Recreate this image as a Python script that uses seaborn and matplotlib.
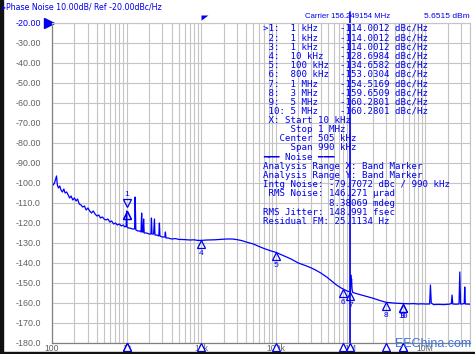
import matplotlib
matplotlib.use('Agg')
import matplotlib.pyplot as plt
import matplotlib.transforms as mtransforms
from matplotlib.patches import Rectangle
from matplotlib.ticker import FixedLocator, FixedFormatter, LogLocator, NullFormatter
import seaborn as sns

W, H, DPI = 475, 354, 100
BLUE = '#0000ee'
GRAY = '#606060'

# measured trace (Hz, dBc/Hz)
freq_hz = [100, 104, 108, 112, 115, 118, 122, 127, 132, 138, 144, 150, 157, 165, 172, 180, 190,
           200, 210, 220, 232, 245, 258, 272, 287, 303, 320, 338, 357, 378, 400, 423, 447, 473,
           500, 530, 560, 595, 630, 670, 710, 750, 800, 850, 900, 950, 985, 1000, 1015, 1050,
           1100, 1200, 1280, 1300, 1330, 1420, 1500, 1560, 1590, 1620, 1660, 1690, 1720, 1850,
           2000, 2120, 2150, 2190, 2300, 2360, 2400, 2550, 2700, 2750, 2800, 3000, 3250, 3310,
           3370, 3600, 4000, 4500, 5000, 6000, 7000, 8000, 9000, 10000, 12000, 15000, 18000,
           22000, 26000, 30000, 35000, 40000, 50000, 60000, 70000, 85000, 100000, 130000, 160000,
           200000, 250000, 300000, 340000, 400000, 480000, 560000, 650000, 750000, 800000,
           900000, 960000, 990000, 1000000, 1010000, 1020000, 1035000, 1050000, 1070000,
           1200000, 1500000, 2000000, 2500000, 3000000, 3500000, 4000000, 5000000, 6000000,
           7000000, 8000000, 9000000, 10000000, 11500000, 11800000, 12100000, 13000000,
           15000000, 18000000, 21000000, 22500000, 23000000, 23500000, 26000000, 28500000,
           29200000, 29900000, 31000000, 33500000, 34000000, 34600000, 40000000]
level_dbc = [-99.5, -101, -100, -98, -96.5, -101, -102.5, -101.5, -103.5, -104.5, -103, -105,
             -104.5, -106, -107.5, -106.5, -108.5, -107.5, -109, -108, -110.5, -111, -112,
             -111.5, -113.5, -112.5, -114, -115, -114, -115.5, -116.5, -116, -117.5, -117,
             -118, -118.5, -118, -119.5, -119, -120.5, -120, -121, -120.5, -121.5, -121, -122,
             -121.5, -114, -122, -122.5,
             -122.5, -123, -123, -107, -123.5, -124, -124, -124.5, -115, -124.5, -124.5, -118,
             -125, -125, -125.5, -125.5, -117.5, -125.5, -125.5, -118, -126, -126, -126.5,
             -120, -126.5, -127, -127, -124.5, -127.5, -127.5, -128, -127.8, -128.2, -128.3,
             -128.5, -128.4, -128.7, -128.7, -128.5, -128.4, -128.2, -128, -128, -128.3,
             -128.8, -129.5, -130.5, -131.8, -132.8, -133.9, -134.66, -136.5, -138,
             -140, -141.3, -142.5, -143.5, -145, -147, -149, -151, -152.5, -153.03,
             -154, -154.3, -154.4, -154.52, -146, -150, -148, -153, -154.7,
             -155.3, -156.3, -157.6, -158.8, -159.65, -159.9, -160.1, -160.28, -160.4,
             -160.3, -160.5, -160.4, -160.5, -160.5, -151, -160, -160.8,
             -160.7, -160.8, -160.6, -160.3, -156, -160.5, -160.6, -160.5,
             -144.5, -160.5, -160.5, -160.3, -152, -160.5, -160.6]

# markers
mk_num = [1, 2, 3, 4, 5, 6, 7, 8, 9, 10]
mk_freq = [1e3, 1e3, 1e3, 1e4, 1e5, 8e5, 1e6, 3e6, 5e6, 5e6]
mk_freq_txt = ['1 kHz', '1 kHz', '1 kHz', '10 kHz', '100 kHz', '800 kHz', '1 MHz', '3 MHz',
               '5 MHz', '5 MHz']
mk_level = [-114.0012, -114.0012, -114.0012, -128.6984, -134.6582, -153.0304, -154.5169,
            -159.6509, -160.2801, -160.2801]

ytick_vals = list(range(-20, -181, -10))
xtick_vals = [1e2, 1e3, 1e4, 1e5, 1e6, 1e7]
xtick_labels = ['100', '1k', '10k', '100k', '1M', '10M']

noise_lines = [' X: Start 10 kHz', '     Stop 1 MHz', '   Center 505 kHz', '     Span 990 kHz',
               '━━━ Noise ━━━', 'Analysis Range X: Band Marker', 'Analysis Range Y: Band Marker',
               'Intg Noise: -79.7072 dBc / 990 kHz', ' RMS Noise: 146.271 µrad',
               '            8.38069 mdeg', 'RMS Jitter: 148.991 fsec', 'Residual FM: 25.1134 Hz']

sns.set_style('white')
plt.rcParams['axes.unicode_minus'] = False

fig = plt.figure(figsize=(W / DPI, H / DPI), dpi=DPI)
ax = fig.add_axes([52 / W, 1 - 343 / H, (470 - 52) / W, (343 - 23) / H])

sns.lineplot(x=freq_hz, y=level_dbc, ax=ax, color='#0000ff', lw=0.9, estimator=None, sort=False)
ax.set_xscale('log')
ax.set_xlim(100, 40e6)
ax.set_ylim(-180, -20)

ax.xaxis.set_major_locator(FixedLocator(xtick_vals))
ax.xaxis.set_major_formatter(FixedFormatter(xtick_labels))
ax.xaxis.set_minor_locator(LogLocator(base=10, subs=range(2, 10), numticks=20))
ax.xaxis.set_minor_formatter(NullFormatter())
ax.yaxis.set_major_locator(FixedLocator(ytick_vals))
ax.yaxis.set_major_formatter(FixedFormatter(
    [f'{v:.2f}' if v > -100 else f'{v:.1f}' for v in ytick_vals]))
ax.grid(which='both', color='#c4c4c4', lw=0.8)
ax.tick_params(axis='x', which='both', length=0, pad=1, labelsize=6.2, colors=GRAY)
ax.tick_params(axis='y', length=4, direction='in', pad=8, labelsize=6.4, colors=GRAY)
for lab in ax.get_xticklabels() + ax.get_yticklabels():
    lab.set_fontfamily('Liberation Sans')
ax.get_yticklabels()[0].set_color(BLUE)
for s in ['top', 'right']:
    ax.spines[s].set_color('#c4c4c4')
    ax.spines[s].set_linewidth(0.8)
for s in ['left', 'bottom']:
    ax.spines[s].set_color('#808080')
    ax.spines[s].set_linewidth(0.9)
ax.set_xlabel('')
ax.set_ylabel('')


def shifted(dy):
    return mtransforms.offset_copy(ax.transData, fig=fig, x=0, y=dy, units='dots')


# markers on the trace
for n, f, v in zip(mk_num, mk_freq, mk_level):
    if n == 1:
        ax.plot([f], [v], marker='v', ms=5.5, mfc='none', mec=BLUE, mew=0.9,
                transform=shifted(8), clip_on=False)
        ax.text(f, v, '1', transform=shifted(17), ha='center', va='center', color=BLUE,
                fontsize=6, family='Liberation Sans')
        continue
    ax.plot([f], [v], marker='^', ms=5.5, mfc='none', mec=BLUE, mew=0.9,
            transform=shifted(-4), clip_on=False)
    if n in (2, 3):
        continue
    ax.text(f, v, str(n), transform=shifted(-13), ha='center', va='center', color=BLUE,
            fontsize=6, family='Liberation Sans')

# marker flags under the x axis
xbt = ax.get_xaxis_transform()
for n, f in zip(mk_num, mk_freq):
    ax.plot([f], [-4 / 320], marker='^', ms=6, transform=xbt, clip_on=False, mec=BLUE,
            mew=0.9, mfc=BLUE if n == 1 else 'white', zorder=5)

# band stop line, band start flag, reference level arrow
ax.plot([1e6, 1e6], [-9 / 320, 331 / 320], transform=xbt, color=BLUE, lw=1.2, clip_on=False)
ax.plot([1e4], [328 / 320], transform=xbt, marker=[(0, 0), (1, 0), (0, -0.75), (0, 0)],
        ms=10, color=BLUE, mew=0, clip_on=False)
ax.plot([-3.5 / 418], [1.0], transform=ax.transAxes, marker='>', ms=7, color=BLUE,
        clip_on=False)


def ftext(x, y, s, **kw):
    fig.text(x / W, 1 - y / H, s, va='center', color=BLUE, **kw)


ftext(2, 7, '▸Phase Noise 10.00dB/ Ref -20.00dBc/Hz', fontsize=5.7, family='DejaVu Sans')
ftext(390, 17, 'Carrier 156.249154 MHz', fontsize=5.6, family='Liberation Sans', ha='right')
ftext(470, 17, '5.6515 dBm', fontsize=6.0, family='Liberation Sans', ha='right')

mono = dict(fontsize=6.6, family='DejaVu Sans Mono')
for i, (n, ft, v) in enumerate(zip(mk_num, mk_freq_txt, mk_level)):
    head = ('>' if i == 0 else ' ') + f'{n}:'
    line = head.ljust(5) + ft.ljust(9) + f'{v:.4f} dBc/Hz'
    ftext(263, 28.4 + i * 9.2, line, **mono)
for k, line in enumerate(noise_lines):
    ftext(263, 28.4 + (10 + k) * 9.2, line, **mono)

fig.text(395 / W, 1 - 344 / H, 'EEChina.com', va='center', color='#3f73dc', fontsize=9,
         family='Liberation Sans')

# dark frame on left and bottom edges of the capture
fig.patches.append(Rectangle((0, 0), 2.5 / W, 1, transform=fig.transFigure, color='#111111'))
fig.patches.append(Rectangle((0, 0), 1, 2.5 / H, transform=fig.transFigure, color='#111111'))

fig.savefig('out.png', dpi=DPI)
